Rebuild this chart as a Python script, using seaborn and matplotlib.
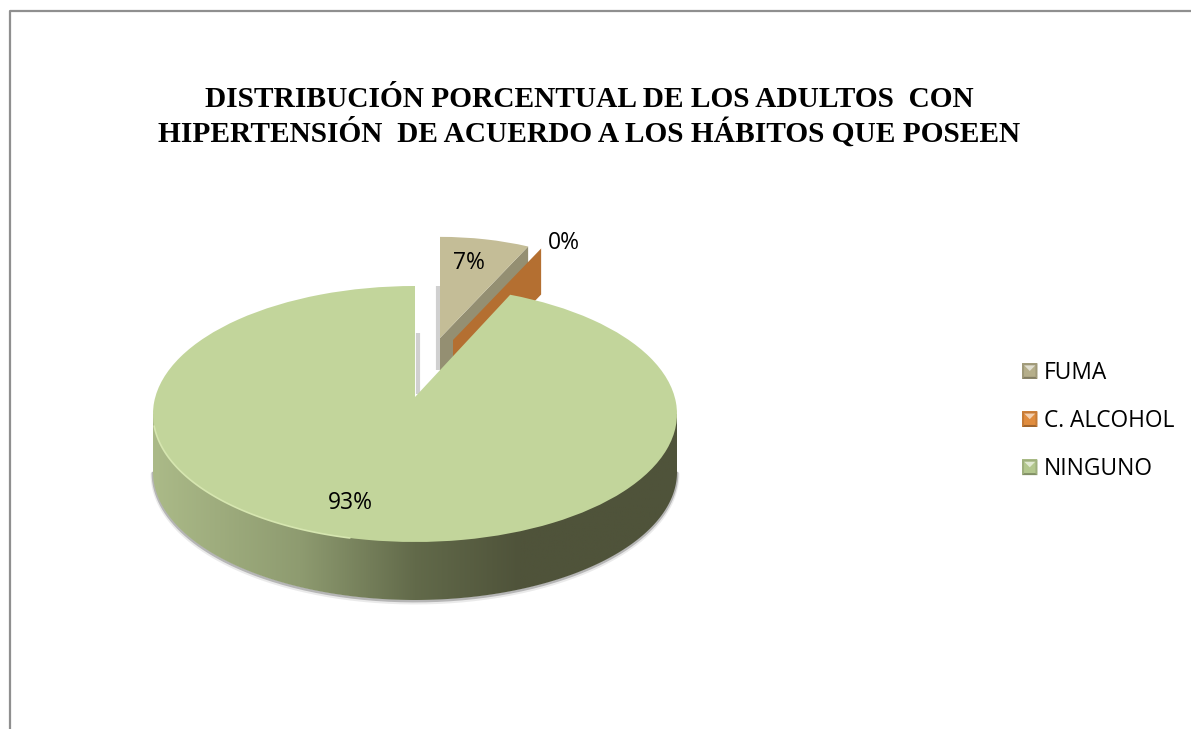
"""Pie chart of hypertension habits, drawn to look like the old Excel 3D pie"""
import numpy as np
import matplotlib
matplotlib.use('Agg')
import matplotlib.pyplot as plt
from matplotlib.colors import LinearSegmentedColormap
from matplotlib.legend_handler import HandlerBase
from matplotlib.lines import Line2D
from matplotlib.patches import Patch, PathPatch, Polygon
from matplotlib.path import Path
import seaborn as sns

categories = ['FUMA', 'C. ALCOHOL', 'NINGUNO']
shares = [7, 0, 93]
title_lines = ['DISTRIBUCIÓN PORCENTUAL DE LOS ADULTOS  CON',
               'HIPERTENSIÓN  DE ACUERDO A LOS HÁBITOS QUE POSEEN']

palette = sns.color_palette(['#C4BD97', '#B46F31', '#C2D59B'])
legend_palette = sns.color_palette(['#B5AE8A', '#E08C3E', '#B3C78E'])
side_gray = '#948F72'
side_colors = [(0, '#ABBA88'), (0.28, '#8E9B70'), (0.5, '#626A4A'), (0.7, '#4F533A'), (1, '#4F533A')]

W, H = 1191, 729
CX, CY, RX, RY = 415, 414, 262, 128  # pie centre and radii in pixels
DEPTH = 58 / RY


def px(x, y):
    return (x - CX) / RX, (CY - y) / RY


class BevelHandler(HandlerBase):
    # little bevelled squares like the excel legend keys
    def create_artists(self, legend, orig, xd, yd, width, height, fontsize, trans):
        x0, y0 = -xd, -yd
        x1, y1 = x0 + width, y0 + height
        b = width * 0.13
        c = np.array(orig.get_facecolor()[:3])
        light = c + (1 - c) * 0.6
        dark = c * 0.72
        mid = c * 0.88
        faces = [
            ([(x0, y0), (x1, y0), (x1, y1), (x0, y1)], c),
            ([(x0 + b, y1 - b), (x1 - b, y1 - b), ((x0 + x1) / 2, (y0 + y1) / 2)], light),
            ([(x0, y0), (x1, y0), (x1 - b, y0 + b), (x0 + b, y0 + b)], dark),
            ([(x0, y0), (x0 + b, y0 + b), (x0 + b, y1 - b), (x0, y1)], mid),
            ([(x1, y0), (x1 - b, y0 + b), (x1 - b, y1 - b), (x1, y1)], mid),
            ([(x0, y1), (x1, y1), (x1 - b, y1 - b), (x0 + b, y1 - b)], mid),
        ]
        return [Polygon(pts, closed=True, facecolor=col, edgecolor='none', transform=trans)
                for pts, col in faces]


sns.set_theme(style='white')
plt.rcParams['font.family'] = ['Open Sans', 'DejaVu Sans']

fig = plt.figure(figsize=(W / 100, H / 100), dpi=100)
ax = fig.add_axes([0, 0, 1, 1])

wedges, _ = ax.pie(shares, colors=palette, startangle=90, counterclock=False,
                   radius=1, center=(0, 0), wedgeprops={'linewidth': 0})
ax.set_aspect('auto')

angle = np.deg2rad(360 * shares[0] / sum(shares))
small_r = 0.79
ux, uy = np.sin(angle), np.cos(angle)

# side of the main disc, gradient clipped to the lower half outline
t = np.linspace(np.pi, 2 * np.pi, 200)
rim_low = np.c_[np.cos(t), np.sin(t) - DEPTH]
outline = np.vstack([rim_low, [[1, 0], [-1, 0], [-1, 0]]])
cmap = LinearSegmentedColormap.from_list('side', side_colors)
img = ax.imshow(np.linspace(0, 1, 256).reshape(1, -1), cmap=cmap, aspect='auto',
                extent=(-1, 1, -1 - DEPTH, 0), zorder=1)
clip = PathPatch(Path(outline, closed=True), transform=ax.transData, facecolor='none',
                 edgecolor='none')
ax.add_patch(clip)
img.set_clip_path(clip)

# soft shadow under the disc
ax.plot(rim_low[:, 0], rim_low[:, 1] - 0.008, color='#555555', alpha=0.35, lw=2, zorder=0.9)
ax.plot(rim_low[:, 0], rim_low[:, 1] - 0.016, color='#555555', alpha=0.12, lw=3.5, zorder=0.8)

# exploded small slice
small_apex = np.array(px(440, 338))
wedges[0].set_center(tuple(small_apex))
wedges[0].set_radius(small_r)
wedges[0].set_zorder(3)
side_d = 46 / RY
rim = small_apex + small_r * np.array([ux, uy])
ax.fill([small_apex[0], rim[0], rim[0], small_apex[0]],
        [small_apex[1], rim[1], rim[1] - side_d, small_apex[1] - side_d],
        color=side_gray, lw=0, zorder=2.5)

# zero slice only shows its cut face
zero_apex = np.array(px(453, 340))
zero_rim = zero_apex + small_r * np.array([ux, uy])
ax.fill([zero_apex[0], zero_rim[0], zero_rim[0], zero_apex[0]],
        [zero_apex[1], zero_rim[1], zero_rim[1] - side_d, zero_apex[1] - side_d],
        color=palette[1], lw=0, zorder=4)

# main slice, opening and apex nudged for the perspective of the original
main = wedges[2]
main.set_theta2(np.rad2deg(np.pi / 2 - angle) + 3.9)
main.set_zorder(5)
verts = main.get_path().vertices
verts[np.hypot(verts[:, 0], verts[:, 1]) < 1e-6, 1] = px(CX, 397)[1]

# light edge on the front left of the disc
t2 = np.linspace(1.03 * np.pi, 1.42 * np.pi, 100)
ax.plot(np.cos(t2), np.sin(t2), color='#D6E6B0', lw=1.2, zorder=5.5)

# thin shadows beside the cuts
for x0, y0, y1 in [(437.5, 286, 370), (418, 333, 394)]:
    xa, ya = px(x0, y0)
    xb, yb = px(x0, y1)
    ax.plot([xa, xb], [ya, yb], color='#8a8a8a', alpha=0.4, lw=3, zorder=2,
            solid_capstyle='butt')

ax.set_xlim(px(0, 0)[0], px(W, 0)[0])
ax.set_ylim(px(0, H)[1], px(0, 0)[1])
ax.axis('off')

# labels
label_pos = [(469, 263), (564, 243), (350, 503)]
for val, (lx, ly) in zip(shares, label_pos):
    xx, yy = px(lx, ly)
    ax.text(xx, yy, f'{val}%', ha='center', va='center', fontsize=16.5,
            color='black', zorder=6)

# title, two lines
for line, y in zip(title_lines, [107, 141.5]):
    fig.text(589.5 / W, 1 - y / H, line, ha='center', va='baseline',
             fontsize=21.2, fontweight='bold', family='Liberation Serif', color='black')

handles = [Patch(facecolor=c) for c in legend_palette]
ax.legend(handles, categories, loc='upper left', bbox_to_anchor=(1022 / W, 1 - 361 / H),
          bbox_transform=fig.transFigure, frameon=False, fontsize=16.4, labelcolor='black',
          handler_map={Patch: BevelHandler()},
          handlelength=0.68, handleheight=0.68, handletextpad=0.27,
          labelspacing=1.06, borderpad=0, borderaxespad=0)

# chart frame: only left and top are in the crop
fig.add_artist(Line2D([9.5 / W, 9.5 / W, 1], [0, 1 - 11 / H, 1 - 11 / H],
                      color='#8f8f8f', lw=1.6, transform=fig.transFigure))

fig.savefig('out.png', dpi=100)
